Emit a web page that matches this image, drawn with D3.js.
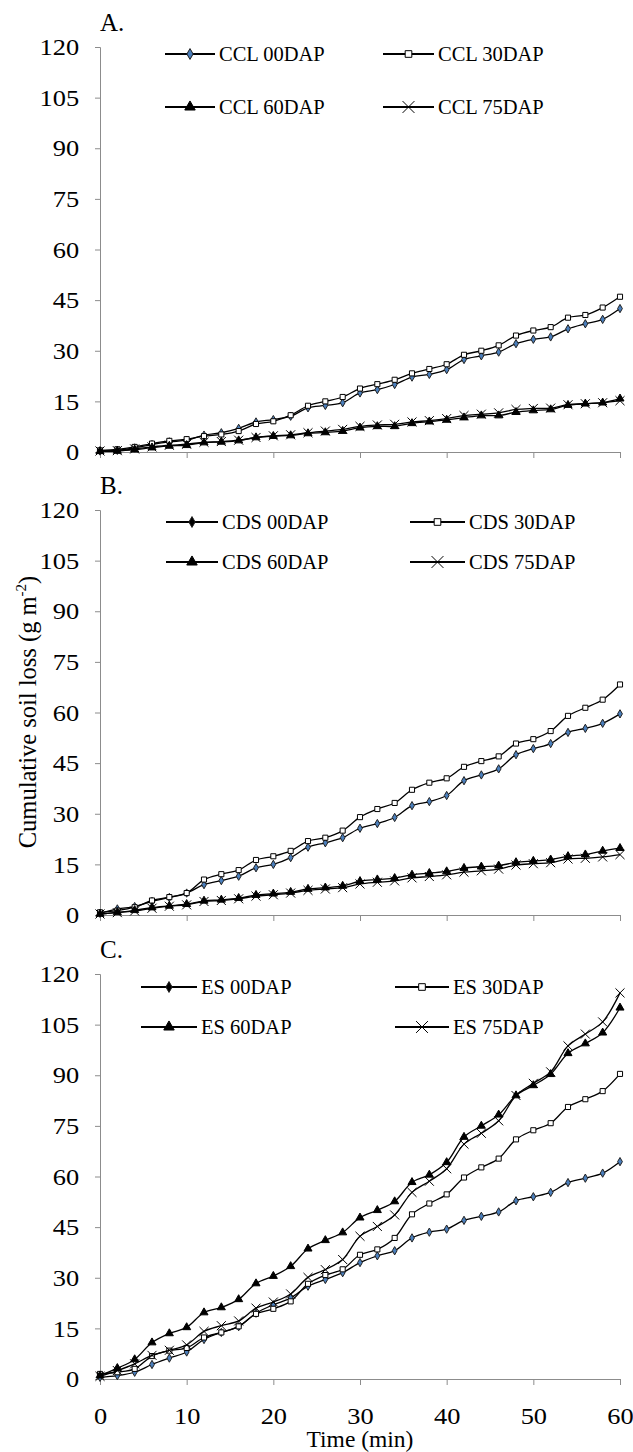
<!DOCTYPE html>
<html>
<head>
<meta charset="utf-8">
<script src="https://cdn.jsdelivr.net/npm/d3@7"></script>
<style>
  body { margin: 0; background: #fff; }
  text { font-family: "Liberation Serif", "Times New Roman", serif; fill: #000; }
</style>
</head>
<body>
<div id="chart"></div>
<script>
// Cumulative soil loss over time, three soil treatments

const time = [0,2,4,6,8,10,12,14,16,18,20,22,24,26,28,30,32,34,36,38,40,42,44,46,48,50,52,54,56,58,60];
const xTicks = [0,10,20,30,40,50,60];
const yTicks = [0,15,30,45,60,75,90,105,120];
const dapLabels = ["00DAP", "30DAP", "60DAP", "75DAP"];

// A. CCL
const ccl00 = [0.3,0.5,1.2,2.2,3,3.5,5,5.7,7,8.9,9.6,10.6,13.1,13.8,14.6,17.5,18.5,20,22.2,23,24.4,27.4,28.5,29.6,32.1,33.4,34.1,36.5,38,39.3,42.5];
const ccl30 = [0.5,0.8,1.5,2.5,3.3,3.8,4.7,5.2,6.2,8.3,9.1,10.9,13.7,15,16.3,18.8,20.1,21.4,23.3,24.6,26,28.8,30,31.6,34.5,36,37,39.8,40.6,42.8,46];
const ccl60 = [0.2,0.3,0.7,1.3,1.8,2,2.8,3,3.4,4.3,4.7,4.9,5.5,5.8,6.2,7.2,7.6,7.6,8.5,9,9.5,10.2,10.8,10.8,11.8,12.3,12.6,13.9,14.3,14.6,15.8];
const ccl75 = [0.3,0.4,0.9,1.5,2,2.3,2.9,3.1,3.5,4.3,4.8,5.1,5.7,6.2,6.7,7.6,8,8.2,8.9,9.3,9.9,10.8,11.2,11.6,12.6,12.9,13,14,14.3,14.6,15.2];

// B. CDS
const cds00 = [0.5,1.8,2.5,4,5.2,6.5,9,10.2,11.5,14,15,17,20.1,21.4,22.9,25.7,27.1,28.9,32.4,33.6,35.4,39.8,41.5,43.3,47.5,49.3,50.8,54.1,55.3,56.8,59.6];
const cds30 = [0.8,1.3,2.3,4.3,5.3,6.5,10.5,12.1,13.3,16.3,17.4,19,21.9,22.9,25,29,31.4,33.2,37.1,39.2,40.5,43.9,45.6,47,50.8,52.1,54.5,59,61.4,63.8,68.3];
const cds60 = [0.3,0.8,1.4,2.2,2.7,3.2,4.2,4.5,5,5.9,6.3,6.8,7.7,8.1,8.6,10,10.5,10.9,11.9,12.4,12.9,13.9,14.3,14.6,15.6,16,16.4,17.4,17.9,19,19.8];
const cds75 = [0.3,0.7,1.2,2,2.6,3,4,4.3,4.8,5.6,6,6.5,7.3,7.7,8.1,9.2,9.7,10.1,11,11.4,11.9,12.7,13.1,13.6,14.8,15.2,15.5,16.6,16.8,17.2,17.9];

// C. ES
const es00 = [0.5,1,2,4.3,6.2,8,11.7,13.8,15.5,19.5,22,24,27.5,29.5,31.5,34.5,36.5,38,41.8,43.5,44.4,47,48.2,49.5,52.8,54,55.3,58.2,59.5,61,64.4];
const es30 = [1.5,2,3,6.8,8.4,9.2,12.3,13.8,15.6,19.3,20.8,23,28.2,30.8,32.5,36.8,38.4,41.8,48.8,52,54.7,59.7,62.7,65.3,71,73.7,75.8,80.6,82.9,85.3,90.4];
const es60 = [1,3.2,5.8,10.8,13.5,15.3,19.7,21.2,23.6,28.3,30.5,33.4,38.6,41.1,43.4,47.8,50,52.6,58.3,60.5,64.2,71.7,75,78.3,84,87,90.3,96.5,99.4,102.6,110];
const es75 = [0.8,2.5,4.5,7,8.5,10.1,14.1,15.8,17.2,21,22.8,25.2,30.1,32.4,35.4,42.3,45.2,48.6,55.3,58.6,62.3,69.6,72.8,76.5,84,87.6,91,98.7,102.2,105.8,114.4];

const width = 633, height = 1452;
const plotLeft = 100, plotRight = 620, plotHeight = 405;
const tickStretch = 1.1;

const panels = [
  {letter: "A.", prefix: "CCL", series: [ccl00, ccl30, ccl60, ccl75], top: 47,
   legend: {rows: [7, 60], lines: [[165, 215], [383, 434]]}, legendDiamond: "#4a7ebb"},
  {letter: "B.", prefix: "CDS", series: [cds00, cds30, cds60, cds75], top: 510,
   legend: {rows: [12, 52], lines: [[166, 218], [410, 465]]}, legendDiamond: "#000"},
  {letter: "C.", prefix: "ES", series: [es00, es30, es60, es75], top: 974,
   legend: {rows: [13, 53], lines: [[141, 197], [395, 449]]}, legendDiamond: "#000"}
];

// marker styles for the four sowing dates
const markers = [
  {type: d3.symbolDiamond, size: 20, fill: "#4a7ebb", stroke: "#222"},
  {type: d3.symbolSquare, size: 26, fill: "#fff", stroke: "#000"},
  {type: d3.symbolTriangle, size: 28, fill: "#000", stroke: "#000"},
  {type: d3.symbolTimes, size: 55, fill: "none", stroke: "#000"}
];

const svg = d3.select("#chart").append("svg")
  .attr("width", width)
  .attr("height", height);

svg.append("rect").attr("width", width).attr("height", height).attr("fill", "#fff");

const x = d3.scaleLinear().domain([0, 60]).range([plotLeft, plotRight]);

panels.forEach(function(p, pi) {
  const y = d3.scaleLinear().domain([0, 120]).range([p.top + plotHeight, p.top]);
  const g = svg.append("g");

  // y axis
  const yAxis = g.append("g")
    .attr("transform", "translate(" + plotLeft + ",0)")
    .call(d3.axisLeft(y).tickValues(yTicks).tickSize(5).tickPadding(14));
  yAxis.select(".domain").attr("stroke", "#8c8c8c");
  yAxis.selectAll(".tick line").attr("stroke", "#8c8c8c");
  yAxis.selectAll(".tick text")
    .attr("font-size", 24)
    .attr("transform", "scale(" + tickStretch + ",1)");

  // x axis, labels only on the last panel
  const xAxis = g.append("g")
    .attr("transform", "translate(0," + (p.top + plotHeight) + ")")
    .call(d3.axisBottom(x).tickValues(xTicks).tickSize(6).tickPadding(22)
      .tickFormat(pi == 2 ? d3.format("d") : ""));
  xAxis.select(".domain").attr("stroke", "#8c8c8c");
  xAxis.selectAll(".tick line").attr("stroke", "#8c8c8c");
  xAxis.selectAll(".tick text")
    .attr("font-size", 24)
    .attr("transform", "scale(" + tickStretch + ",1)");

  // panel letter
  g.append("text")
    .attr("x", plotLeft)
    .attr("y", p.top - 16)
    .attr("font-size", 25)
    .text(p.letter);

  // series
  const line = d3.line()
    .x(function(d, i) { return x(time[i]); })
    .y(function(d) { return y(d); })
    .curve(d3.curveCatmullRom);

  p.series.forEach(function(values, si) {
    const m = markers[si];
    g.append("path")
      .attr("d", line(values))
      .attr("fill", "none")
      .attr("stroke", "#000")
      .attr("stroke-width", 1.3);

    g.selectAll(".mk" + si)
      .data(values)
      .enter()
      .append("path")
      .attr("transform", function(d, i) { return "translate(" + x(time[i]) + "," + y(d) + ")"; })
      .attr("d", d3.symbol().type(m.type).size(m.size))
      .attr("fill", m.fill)
      .attr("stroke", m.stroke)
      .attr("stroke-width", 1);
  });

  // legend, 2 x 2
  dapLabels.forEach(function(lab, li) {
    const row = Math.floor(li / 2), col = li % 2;
    const ly = p.top + p.legend.rows[row];
    const x0 = p.legend.lines[col][0], x1 = p.legend.lines[col][1];
    const m = markers[li];
    g.append("line")
      .attr("x1", x0).attr("x2", x1)
      .attr("y1", ly).attr("y2", ly)
      .attr("stroke", "#000")
      .attr("stroke-width", 1.8);
    g.append("path")
      .attr("transform", "translate(" + ((x0 + x1) / 2) + "," + ly + ")")
      .attr("d", d3.symbol().type(m.type).size(m.size * 1.7))
      .attr("fill", li == 0 ? p.legendDiamond : m.fill)
      .attr("stroke", m.stroke)
      .attr("stroke-width", 1);
    g.append("text")
      .attr("x", x1 + 4)
      .attr("y", ly + 7)
      .attr("font-size", 20.5)
      .text(p.prefix + " " + lab);
  });
});

// shared axis titles
svg.append("text")
  .attr("x", (plotLeft + plotRight) / 2)
  .attr("y", 1447)
  .attr("text-anchor", "middle")
  .attr("font-size", 23.5)
  .text("Time (min)");

const yTitle = svg.append("text")
  .attr("transform", "translate(36,712) rotate(-90)")
  .attr("text-anchor", "middle")
  .attr("font-size", 24.5);
yTitle.append("tspan").text("Cumulative soil loss (g m");
yTitle.append("tspan").attr("font-size", 15).attr("dy", -10).text("-2");
yTitle.append("tspan").attr("dy", 10).text(")");
</script>
</body>
</html>
